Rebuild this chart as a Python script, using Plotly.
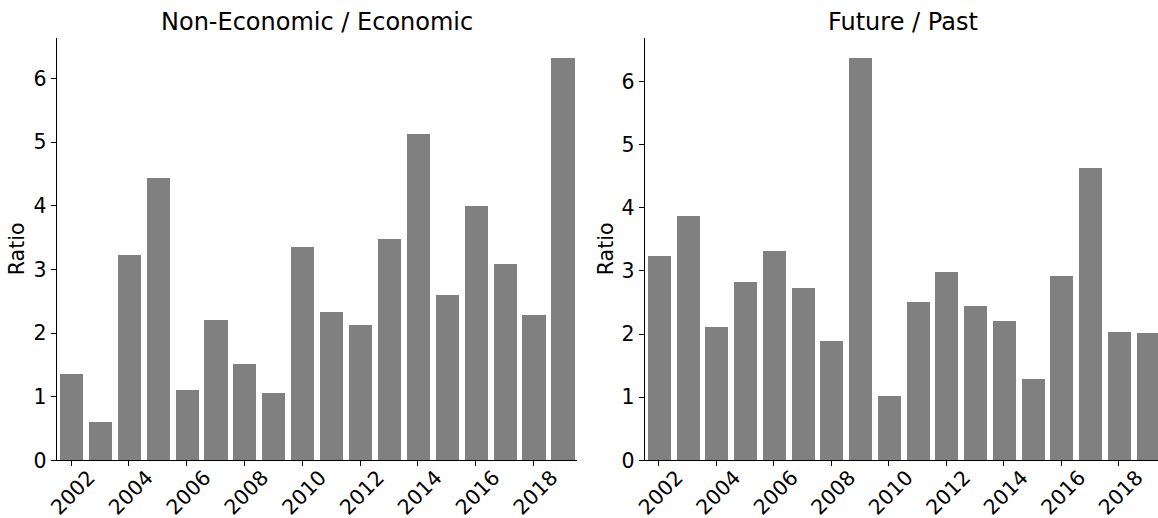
import plotly.graph_objects as go

years = list(range(2002, 2020))
non_econ_ratio = [1.36, 0.60, 3.22, 4.44, 1.10, 2.20, 1.51, 1.06, 3.35, 2.33,
                  2.13, 3.48, 5.13, 2.60, 4.00, 3.08, 2.28, 6.32]
future_past_ratio = [3.23, 3.87, 2.11, 2.82, 3.31, 2.73, 1.89, 6.37, 1.02, 2.51,
                     2.98, 2.44, 2.21, 1.29, 2.92, 4.63, 2.03, 2.02]
panel_titles = ["Non-Economic / Economic", "Future / Past"]
y_label = "Ratio"
tick_years = years[::2]
tick_text = [str(y) for y in tick_years]

W, H = 1158, 518
FONT = "DejaVu Sans"
BAR_COLOR = "#808080"

# pixel geometry of the two panels
left_px = (56.6, 577.0)
right_px = (644.6, 1158.0)
unit_right = 28.75  # px per bar slot in the right panel
y_bottom_px, y_top_px = 460.4, 38.0

def px_x(p):
    return p / W

def px_y(p):
    return (H - p) / H

fig = go.Figure()

fig.add_trace(go.Bar(x=years, y=non_econ_ratio, width=0.8,
                     marker=dict(color=BAR_COLOR, line=dict(width=0)),
                     xaxis="x", yaxis="y", showlegend=False))
fig.add_trace(go.Bar(x=years, y=future_past_ratio, width=0.8,
                     marker=dict(color=BAR_COLOR, line=dict(width=0)),
                     xaxis="x2", yaxis="y2", showlegend=False))

x0 = years[0] - 0.5
right_end = x0 + (right_px[1] - right_px[0]) / unit_right

common_x = dict(
    tickmode="array", tickvals=tick_years, ticktext=tick_text,
    tickangle=-45, ticks="outside", ticklen=5, tickwidth=1, tickcolor="black",
    showline=True, linecolor="black", linewidth=1, showgrid=False, zeroline=False,
    tickfont=dict(family=FONT, size=20.5, color="black"),
    ticklabelshift=18, ticklabelstandoff=-9, automargin=False,
)
common_y = dict(
    tickmode="array", tickvals=[0, 1, 2, 3, 4, 5, 6],
    ticks="outside", ticklen=5, tickwidth=1, tickcolor="black",
    showline=True, linecolor="black", linewidth=1, showgrid=False, zeroline=False,
    tickfont=dict(family=FONT, size=20.5, color="black"), automargin=False,
)

fig.update_layout(
    template="none",
    width=W, height=H,
    margin=dict(l=0, r=0, t=0, b=0, autoexpand=False),
    paper_bgcolor="white", plot_bgcolor="white",
    bargap=0,
    xaxis=dict(domain=[px_x(left_px[0]), px_x(left_px[1])],
               range=[x0, years[-1] + 0.5], anchor="y", **common_x),
    yaxis=dict(domain=[px_y(y_bottom_px), px_y(y_top_px)],
               range=[0, max(non_econ_ratio) * 1.05], anchor="x", **common_y),
    xaxis2=dict(domain=[px_x(right_px[0]), 1.0],
                range=[x0, right_end], anchor="y2", **common_x),
    yaxis2=dict(domain=[px_y(y_bottom_px), px_y(y_top_px)],
                range=[0, max(future_past_ratio) * 1.05], anchor="x2", **common_y),
)

annotations = []
for title, (a, b) in zip(panel_titles, [left_px, (right_px[0], right_px[0] + 18 * unit_right)]):
    annotations.append(dict(
        text=title, x=px_x((a + b) / 2), y=px_y(22), xref="paper", yref="paper",
        xanchor="center", yanchor="middle", showarrow=False,
        font=dict(family=FONT, size=24, color="black")))
for xc in (17, 606):
    annotations.append(dict(
        text=y_label, x=px_x(xc), y=px_y((y_bottom_px + y_top_px) / 2),
        xref="paper", yref="paper", xanchor="center", yanchor="middle",
        textangle=-90, showarrow=False,
        font=dict(family=FONT, size=20.5, color="black")))
fig.update_layout(annotations=annotations)

fig.write_html("out.html")
